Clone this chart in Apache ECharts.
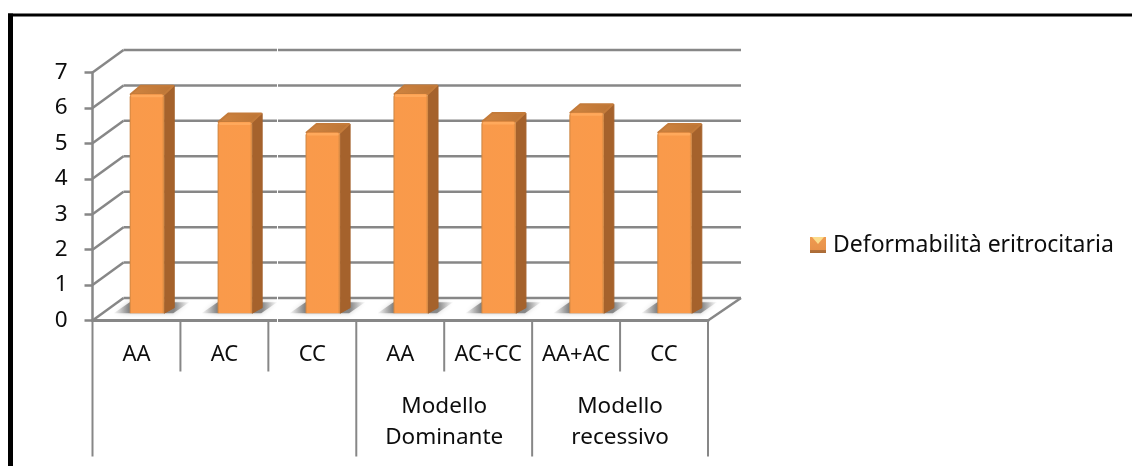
<!DOCTYPE html>
<html>
<head>
<meta charset="utf-8">
<style>
  html, body { margin: 0; padding: 0; background: #fff; }
  #chart { width: 1132px; height: 466px; }
</style>
<script src="https://cdn.jsdelivr.net/npm/echarts@6/dist/echarts.min.js"></script>
</head>
<body>
<div id="chart"></div>
<script>
// Chart data
const seriesName = 'Deformabilità eritrocitaria';
const categories = ['AA', 'AC', 'CC', 'AA', 'AC+CC', 'AA+AC', 'CC'];
const deformability = [6.18, 5.4, 5.1, 6.19, 5.41, 5.66, 5.1];
const groupLabels = ['', 'Modello\nDominante', 'Modello\nrecessivo'];
const groupFirst = [0, 3, 5];
const groupLast = [2, 4, 6];
const valueTicks = [0, 1, 2, 3, 4, 5, 6, 7];

// Drawing constants for the pseudo-3D box
const GRAY = '#878787';
const FONT = '"Noto Sans"';
const TEXT = '#0d0d0d';
const WALL_DX = 31, WALL_DY = -22.5;
const BAR_DX = 10.5, BAR_DY = -7.3;
const BAR_DEPTH_DX = 10, BAR_DEPTH_DY = -8.5;

const line = (x1, y1, x2, y2, w, c) => ({
  type: 'line',
  shape: { x1, y1, x2, y2 },
  style: { stroke: c || GRAY, lineWidth: w || 2.5 }
});
const poly = (points, style) => ({ type: 'polygon', shape: { points }, style });

function renderWalls(params, api) {
  const cs = params.coordSys;
  const y = api.coord([0, api.value(1)])[1];
  const l = cs.x, r = cs.x + cs.width;
  const children = [
    line(l, y, l + WALL_DX, y + WALL_DY),
    line(l + WALL_DX, y + WALL_DY, r + WALL_DX + 2, y + WALL_DY)
  ];
  if (api.value(1) === 0) {
    children.push(line(r, y, r + WALL_DX + 2, y + WALL_DY));
  }
  return { type: 'group', children };
}

function renderShadow(params, api) {
  const c = api.coord([api.value(0), 0]);
  const w = api.size([1, 0])[0] * 0.393;
  const x0 = c[0] - w / 2 + BAR_DX, x1 = x0 + w, b = c[1] + BAR_DY;
  return poly(
    [[x0 - 16, b], [x1 + 9, b], [x1 + 25, b - 11], [x0, b - 11]],
    {
      fill: new echarts.graphic.LinearGradient(0, 0, 1, 0, [
        { offset: 0, color: 'rgba(150,150,150,0.05)' },
        { offset: 0.2, color: 'rgba(115,115,115,0.8)' },
        { offset: 0.8, color: 'rgba(115,115,115,0.8)' },
        { offset: 1, color: 'rgba(150,150,150,0.05)' }
      ]),
      shadowBlur: 5,
      shadowColor: 'rgba(120,120,120,0.5)'
    }
  );
}

function renderBar(params, api) {
  const v = api.value(1);
  const c = api.coord([api.value(0), v]);
  const base = api.coord([api.value(0), 0]);
  const w = api.size([1, 0])[0] * 0.393;
  const x0 = c[0] - w / 2 + BAR_DX, x1 = x0 + w;
  const top = c[1] + BAR_DY, b = base[1] + BAR_DY;
  const dx = BAR_DEPTH_DX, dy = BAR_DEPTH_DY;
  return {
    type: 'group',
    children: [
      poly([[x1, top], [x1 + dx, top + dy], [x1 + dx, b + dy + 3], [x1, b]],
        { fill: '#a5622c', stroke: '#a5622c', lineWidth: 1, lineJoin: 'round' }),
      poly([[x0 + 1, top], [x0 + dx + 1, top + dy], [x1 + dx - 1, top + dy], [x1, top]],
        {
          fill: new echarts.graphic.LinearGradient(0, 0, 1, 0, [
            { offset: 0, color: '#d08440' },
            { offset: 1, color: '#bb7435' }
          ]),
          stroke: '#c47b3a', lineWidth: 2, lineJoin: 'round'
        }),
      {
        type: 'rect',
        shape: { x: x0, y: top, width: w, height: b - top, r: [3, 3, 0, 0] },
        style: {
          fill: new echarts.graphic.LinearGradient(0, 0, 1, 0, [
            { offset: 0, color: '#c8823f' },
            { offset: 0.05, color: '#f99a4b' },
            { offset: 0.93, color: '#fa9a4a' },
            { offset: 1, color: '#cf8743' }
          ])
        }
      },
      {
        type: 'rect',
        shape: { x: x0 + 1.5, y: top + 0.5, width: w - 3, height: 2.5, r: 1 },
        style: { fill: '#ffa95c' }
      }
    ]
  };
}

// Two-level category axis: long dividers between groups, short ones between categories
function renderGroups(params, api) {
  const i = params.dataIndex;
  const cat = api.size([1, 0])[0];
  const axisY = api.coord([0, 0])[1];
  const left = api.coord([groupFirst[i], 0])[0] - cat / 2;
  const right = api.coord([groupLast[i], 0])[0] + cat / 2;
  const children = [line(right, axisY, right, axisY + 136, 2)];
  if (i === 0) children.push(line(left, axisY, left, axisY + 136, 2));
  for (let k = groupFirst[i]; k < groupLast[i]; k++) {
    const x = api.coord([k, 0])[0] + cat / 2;
    children.push(line(x, axisY, x, axisY + 51, 2));
  }
  if (groupLabels[i]) {
    children.push({
      type: 'text',
      style: {
        text: groupLabels[i],
        x: (left + right) / 2,
        y: axisY + 102,
        align: 'center',
        verticalAlign: 'middle',
        fontFamily: FONT,
        fontSize: 22.5,
        lineHeight: 31,
        fill: TEXT
      }
    });
  }
  return { type: 'group', children };
}

const chart = echarts.init(document.getElementById('chart'), null, { renderer: 'canvas' });
chart.setOption({
  animation: false,
  backgroundColor: '#fff',
  grid: { left: 92.5, top: 72.5, width: 615.5, height: 248 },
  legend: {
    left: 810,
    top: 233.5,
    padding: 0,
    itemWidth: 16,
    itemHeight: 16,
    itemGap: 0,
    selectedMode: false,
    data: [{
      name: seriesName,
      icon: 'rect',
      itemStyle: {
        color: new echarts.graphic.LinearGradient(0, 0, 0, 1, [
          { offset: 0, color: '#ee9a50' },
          { offset: 0.8, color: '#e8924a' },
          { offset: 0.81, color: '#b4713a' },
          { offset: 1, color: '#a96a36' }
        ])
      }
    }],
    textStyle: { fontFamily: FONT, fontSize: 23, color: TEXT, padding: [0, 0, 0, 2] }
  },
  xAxis: {
    type: 'category',
    data: categories,
    axisLine: { lineStyle: { color: GRAY, width: 3 } },
    axisTick: { show: false },
    axisLabel: { fontFamily: FONT, fontSize: 22, color: TEXT, margin: 23, interval: 0 }
  },
  yAxis: {
    type: 'value',
    min: 0,
    max: 7,
    interval: 1,
    axisLine: { show: true, lineStyle: { color: GRAY, width: 2.5 } },
    axisTick: { show: true, length: 8, lineStyle: { color: GRAY, width: 2.5 } },
    axisLabel: { fontFamily: FONT, fontSize: 22.5, color: TEXT, margin: 25 },
    splitLine: { show: false }
  },
  graphic: [
    // Sheet frame: top rule and left rule
    { type: 'rect', z: 50, shape: { x: 8, y: 13.5, width: 1124, height: 3 }, style: { fill: '#000' } },
    { type: 'rect', z: 50, shape: { x: 8, y: 13.5, width: 5, height: 453 }, style: { fill: '#000' } },
    // Thin seam through the gridlines
    { type: 'rect', z: 3, shape: { x: 277, y: 48, width: 1, height: 275 }, style: { fill: '#fff' } },
    // Lit top of the legend swatch
    { type: 'polygon', z: 50, shape: { points: [[812, 237], [824, 237], [818, 244]] }, style: { fill: '#fbdc8c' } }
  ],
  series: [
    {
      type: 'custom',
      name: 'walls',
      z: 2,
      silent: true,
      clip: false,
      renderItem: renderWalls,
      data: valueTicks.map(t => [0, t])
    },
    {
      type: 'custom',
      name: 'groups',
      z: 2,
      silent: true,
      clip: false,
      renderItem: renderGroups,
      data: groupFirst.map(i => [i, 0])
    },
    {
      type: 'custom',
      name: 'shadows',
      z: 4,
      silent: true,
      clip: false,
      renderItem: renderShadow,
      data: categories.map((_, i) => [i, 0])
    },
    {
      type: 'custom',
      name: seriesName,
      z: 5,
      silent: true,
      clip: false,
      renderItem: renderBar,
      encode: { x: 0, y: 1 },
      data: deformability.map((v, i) => [i, v])
    }
  ]
});
</script>
</body>
</html>
